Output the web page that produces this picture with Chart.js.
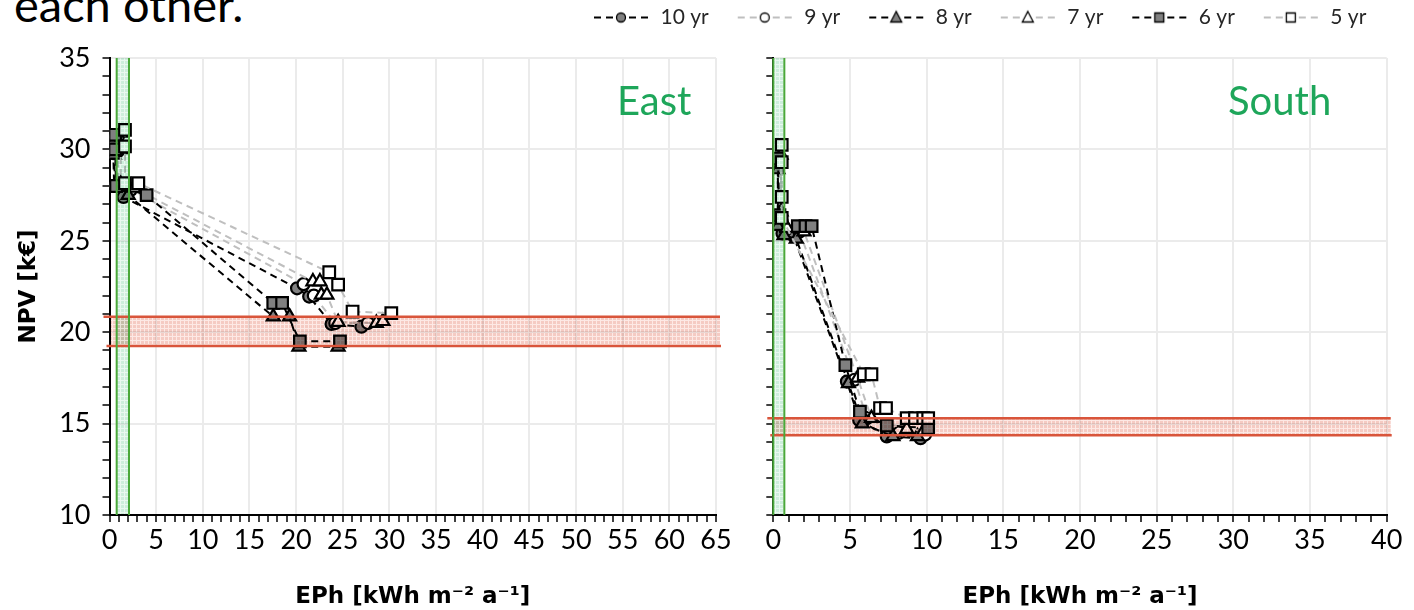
<!DOCTYPE html>
<html><head><meta charset="utf-8">
<script src="https://cdn.jsdelivr.net/npm/chart.js@4.4.1/dist/chart.umd.min.js"></script>
<style>
html,body{margin:0;padding:0;background:#fff;width:1414px;height:610px;overflow:hidden;position:relative}
canvas{position:absolute}
.txt{position:absolute;white-space:nowrap}
</style></head><body>
<div class="txt" style="left:14px;top:-19px;font:47px/47px Lato, sans-serif;color:#000">each other.</div>
<canvas id="east" style="left:0;top:0;width:740px;height:610px" width="740" height="610"></canvas>
<canvas id="south" style="left:707px;top:0;width:707px;height:610px" width="707" height="610"></canvas>
<canvas id="legend" style="left:565px;top:-20px;width:849px;height:100px" width="849" height="100"></canvas>
<div class="txt" style="left:617px;top:76px;font:40px Lato, sans-serif;color:#1ea65a">East</div>
<div class="txt" style="left:1228px;top:76px;font:40px Lato, sans-serif;color:#1ea65a">South</div>
<script>
// ---------- data ----------
const seriesLabels = ['10 yr', '9 yr', '8 yr', '7 yr', '6 yr', '5 yr'];

const east10 = [[0.4,30.6],[0.4,29.8],[0.5,28.0],[1.5,27.4],[20.1,22.4],[21.4,21.95],[23.8,20.45],[27.0,20.3]];
const east9  = [[0.9,30.7],[0.9,29.9],[0.9,28.0],[2.3,27.8],[20.8,22.63],[21.9,22.0],[24.2,20.5],[27.7,20.5]];
const east8  = [[0.5,30.5],[0.5,29.7],[0.6,27.9],[2.0,27.5],[17.55,20.85],[19.3,20.85],[20.3,19.2],[24.5,19.2]];
const east7  = [[1.2,30.9],[1.2,30.0],[1.2,28.1],[2.6,27.9],[21.8,22.77],[22.55,22.77],[22.7,22.04],[23.3,22.04],[24.5,20.55],[28.6,20.5],[29.3,20.6]];
const east6  = [[0.6,30.8],[0.6,30.0],[0.7,28.0],[3.98,27.5],[17.55,21.6],[18.5,21.6],[20.4,19.5],[24.7,19.5]];
const east5  = [[1.66,31.07],[1.66,30.16],[1.66,28.15],[3.09,28.15],[23.55,23.28],[24.5,22.6],[26.05,21.13],[30.2,21.04]];

const south10 = [[0.3,29.1],[0.3,26.0],[0.6,25.4],[1.3,25.3],[4.8,17.3],[5.6,15.2],[7.4,14.3],[9.6,14.2]];
const south9  = [[0.5,29.4],[0.5,26.3],[0.8,25.6],[1.7,25.5],[5.3,17.4],[6.1,15.3],[8.2,14.5],[9.9,14.4]];
const south8  = [[0.3,28.9],[0.3,25.8],[0.7,25.3],[1.5,25.1],[4.9,17.2],[5.8,15.0],[7.8,14.3],[9.4,14.3]];
const south7  = [[0.5,29.7],[0.5,26.6],[0.9,25.7],[2.0,25.5],[5.5,17.5],[6.4,15.3],[8.7,14.7],[9.8,14.6]];
const south6  = [[0.3,29.5],[0.4,26.4],[1.6,25.8],[2.1,25.8],[2.5,25.8],[4.7,18.2],[5.65,15.65],[7.4,14.9],[10.1,14.75]];
const south5  = [[0.55,30.25],[0.55,29.3],[0.55,27.4],[0.55,26.25],[5.9,17.7],[6.4,17.7],[6.96,15.85],[7.35,15.85],[8.7,15.3],[9.24,15.3],[9.78,15.3],[10.1,15.3]];

const eastSeries  = [east10, east9, east8, east7, east6, east5];
const southSeries = [south10, south9, south8, south7, south6, south5];

const eastGreenBand  = [0.77, 2.09];
const eastRedBand    = [19.25, 20.84];
const southGreenBand = [0.0, 0.72];
const southRedBand   = [14.36, 15.29];

const yRange = [10, 35];
const eastXRange = [0, 65];
const southXRange = [0, 40];
const majorStep = 5;

const yTitle = 'NPV [k€]';
const xTitle = 'EPh [kWh m⁻² a⁻¹]';

// ---------- styles ----------
const styles = [
  {shape:'circle',   fill:'#808080', line:'#000000', r:6},
  {shape:'circle',   fill:'#ffffff', line:'#bfbfbf', r:6},
  {shape:'triangle', fill:'#808080', line:'#000000', r:7.5},
  {shape:'triangle', fill:'#ffffff', line:'#bfbfbf', r:7.5},
  {shape:'rect',     fill:'#808080', line:'#000000', r:8.2},
  {shape:'rect',     fill:'#ffffff', line:'#bfbfbf', r:8.2}
];

function makeDatasets(series) {
  return series.map((pts, i) => ({
    label: seriesLabels[i],
    data: pts.map(p => ({x: p[0], y: p[1]})),
    showLine: true,
    borderColor: styles[i].line,
    borderWidth: 2,
    borderDash: [7, 5],
    pointStyle: styles[i].shape,
    pointRadius: styles[i].r,
    pointBackgroundColor: styles[i].fill,
    pointBorderColor: '#000',
    pointBorderWidth: 2.2,
    order: 5 - i
  }));
}

function makePattern(base, lineCol) {
  const c = document.createElement('canvas');
  c.width = 4; c.height = 4;
  const g = c.getContext('2d');
  g.fillStyle = base; g.fillRect(0, 0, 4, 4);
  g.fillStyle = lineCol; g.fillRect(0, 0, 4, 1); g.fillRect(0, 0, 1, 4);
  return c;
}
const redTile = makePattern('#f5cbc3', '#fde9e5');
const greenTile = makePattern('#cdeedc', '#eaf8f0');

const bandPlugin = {
  id: 'bands',
  afterDatasetsDraw(chart, args, opts) {
    const {ctx, chartArea: {left, right, top, bottom}, scales: {x, y}} = chart;
    const gx0 = x.getPixelForValue(opts.green[0]);
    const gx1 = x.getPixelForValue(opts.green[1]);
    const ry0 = y.getPixelForValue(opts.red[1]);
    const ry1 = y.getPixelForValue(opts.red[0]);
    ctx.save();
    ctx.globalCompositeOperation = 'multiply';
    ctx.fillStyle = ctx.createPattern(redTile, 'repeat');
    ctx.fillRect(left, ry0, right + 4 - left, ry1 - ry0);
    ctx.fillStyle = ctx.createPattern(greenTile, 'repeat');
    ctx.fillRect(gx0, top, gx1 - gx0, bottom - top);
    ctx.restore();
    ctx.save();
    ctx.strokeStyle = '#d9553b';
    ctx.lineWidth = 2.5;
    ctx.beginPath();
    ctx.moveTo(left - 6, ry0); ctx.lineTo(right + 4, ry0);
    ctx.moveTo(left - 3, ry1); ctx.lineTo(right + 5, ry1);
    ctx.stroke();
    ctx.strokeStyle = '#4aa83a';
    ctx.lineWidth = 2;
    ctx.beginPath();
    ctx.moveTo(gx0, top); ctx.lineTo(gx0, bottom);
    ctx.moveTo(gx1, top); ctx.lineTo(gx1, bottom);
    ctx.stroke();
    ctx.restore();
  }
};

const tickFont = {family: 'Lato, sans-serif', size: 27};
const titleFont = {family: 'DejaVu Sans, sans-serif', size: 23, weight: 'bold', lineHeight: 1};
const gridColor = c => (c.tick && c.tick.value % majorStep === 0) ? '#ebebeb' : 'rgba(0,0,0,0)';

function xScale(range) {
  return {
    type: 'linear', min: range[0], max: range[1],
    ticks: {stepSize: 1, autoSkip: false, maxRotation: 0, minRotation: 0,
      callback: v => v % majorStep === 0 ? String(v) : '',
      font: tickFont, color: '#000', padding: 2},
    grid: {color: gridColor, lineWidth: 2, drawTicks: true, tickLength: 7, tickColor: '#000', tickWidth: 1.5},
    border: {display: true, color: '#000', width: 2},
    title: {display: true, text: xTitle, font: titleFont, color: '#000', padding: {top: 0, bottom: 1}},
    afterFit: s => { s.height = 95; }
  };
}
function yScale(width, showLabels) {
  return {
    type: 'linear', min: yRange[0], max: yRange[1],
    ticks: {stepSize: 1, autoSkip: false,
      callback: v => (showLabels && v % majorStep === 0) ? String(v) : '',
      font: tickFont, color: '#000', padding: 12},
    grid: {color: gridColor, lineWidth: 2, drawTicks: true, tickLength: 7, tickColor: '#000', tickWidth: 1.5},
    border: {display: true, color: '#000', width: 2},
    title: {display: showLabels, text: yTitle, font: titleFont, color: '#000', padding: {top: 18, bottom: 0}},
    afterFit: s => { s.width = width; }
  };
}

function panel(id, series, xRange, yWidth, rightPad, showY, green, red) {
  return new Chart(document.getElementById(id), {
    type: 'scatter',
    data: {datasets: makeDatasets(series)},
    options: {
      responsive: false, animation: false, events: [], devicePixelRatio: 1,
      layout: {padding: {top: 58, right: rightPad, bottom: 0, left: 0}},
      scales: {x: xScale(xRange), y: yScale(yWidth, showY)},
      plugins: {legend: {display: false}, tooltip: {enabled: false},
        bands: {green: green, red: red}}
    },
    plugins: [bandPlugin]
  });
}

panel('east', eastSeries, eastXRange, 109.5, 24, true, eastGreenBand, eastRedBand);
panel('south', southSeries, southXRange, 66.3, 27.3, false, southGreenBand, southRedBand);

// ---------- legend ----------
function legendIcon(st) {
  const c = document.createElement('canvas');
  c.width = 58; c.height = 20;
  const g = c.getContext('2d');
  g.strokeStyle = st.line; g.lineWidth = 2;
  g.beginPath();
  [[2,9],[14,21],[37,44],[49,56]].forEach(s => { g.moveTo(s[0], 10); g.lineTo(s[1], 10); });
  g.stroke();
  g.fillStyle = st.fill; g.strokeStyle = '#000'; g.lineWidth = 1.3;
  g.beginPath();
  if (st.shape === 'circle') g.arc(29, 10, 4.5, 0, Math.PI * 2);
  else if (st.shape === 'triangle') { g.moveTo(29, 4); g.lineTo(34.5, 14.5); g.lineTo(23.5, 14.5); g.closePath(); }
  else g.rect(24.5, 5.5, 9, 9);
  g.fill(); g.stroke();
  return c;
}
const legendIcons = styles.map(legendIcon);

new Chart(document.getElementById('legend'), {
  type: 'scatter',
  data: {datasets: seriesLabels.map(l => ({label: l, data: []}))},
  options: {
    responsive: false, animation: false, events: [], devicePixelRatio: 1,
    scales: {x: {display: false}, y: {display: false}},
    plugins: {
      tooltip: {enabled: false},
      legend: {display: true, position: 'top', align: 'start', maxHeight: 90,
        labels: {usePointStyle: true, pointStyleWidth: 58, padding: 27, color: '#262626',
          font: {family: 'Lato, sans-serif', size: 21},
          generateLabels: () => seriesLabels.map((l, i) => ({
            text: l, pointStyle: legendIcons[i], fillStyle: '#fff', strokeStyle: '#000',
            lineWidth: 0, hidden: false, datasetIndex: i, fontColor: '#262626'}))
        }
      }
    }
  }
});
</script>
</body></html>
